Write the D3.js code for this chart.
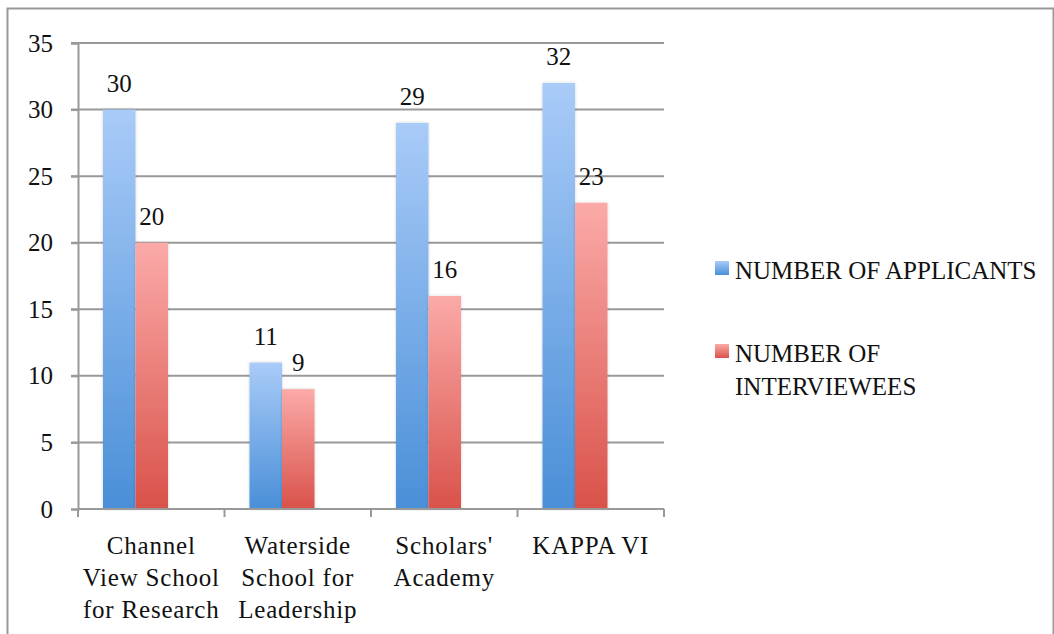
<!DOCTYPE html>
<html>
<head>
<meta charset="utf-8">
<script src="https://cdn.jsdelivr.net/npm/d3@7"></script>
<style>
	body { margin: 0; background: #fff; }
	svg text { font-family: "Liberation Serif"; fill: #111; }
</style>
</head>
<body>
<div id="chart"></div>
<script>
//-------------------------------------
// data
//-------------------------------------
var schools = [
	["Channel", "View School", "for Research"],
	["Waterside", "School for", "Leadership"],
	["Scholars'", "Academy"],
	["KAPPA VI"]
];
var seriesNames = ["NUMBER OF APPLICANTS", "NUMBER OF INTERVIEWEES"];
var applicants = [30, 11, 29, 32];
var interviewees = [20, 9, 16, 23];
var yTicks = [0, 5, 10, 15, 20, 25, 30, 35];

var width = 1054;
var height = 634;
var serif = "Liberation Serif";

var svg = d3.select("#chart")
	.append("svg")
	.attr("width", width)
	.attr("height", height)
	.attr("font-family", serif);

// frame
svg.append("rect")
	.attr("x", 7.5).attr("y", 8.5)
	.attr("width", 1046).attr("height", 640)
	.style("fill", "none")
	.style("stroke", "#999")
	.style("stroke-width", 2);

// gradients
var defs = svg.append("defs");
var grads = [["g0", "#a9cbf8", "#4a8fd8"], ["g1", "#fbaaa8", "#d9524a"]];
grads.forEach(function(g) {
	var lg = defs.append("linearGradient")
		.attr("id", g[0])
		.attr("x1", 0).attr("y1", 0).attr("x2", 0).attr("y2", 1);
	lg.append("stop").attr("offset", "0%").attr("stop-color", g[1]);
	lg.append("stop").attr("offset", "100%").attr("stop-color", g[2]);
});
var shadow = defs.append("filter").attr("id", "sh")
	.attr("x", "-30%").attr("y", "-10%").attr("width", "160%").attr("height", "120%");
shadow.append("feDropShadow")
	.attr("dx", 0).attr("dy", 0).attr("stdDeviation", 1.5)
	.attr("flood-color", "#000").attr("flood-opacity", 0.18);

//-------------------------------------
// scales
//-------------------------------------
var plotLeft = 78, plotRight = 664, plotTop = 43, plotBottom = 509;

var x0 = d3.scaleBand()
	.domain(d3.range(schools.length))
	.range([plotLeft, plotRight])
	.padding(0);

var bw = x0.bandwidth();
var x1 = d3.scaleBand()
	.domain([0, 1])
	.range([bw * 25 / 146.5, bw * 90 / 146.5])
	.padding(0);

var y = d3.scaleLinear()
	.domain([0, 35])
	.range([plotBottom, plotTop]);

// grid
svg.append("g").selectAll("line")
	.data(yTicks.slice(1))
	.enter()
	.append("line")
	.attr("x1", plotLeft - 7).attr("x2", plotRight)
	.attr("y1", function(d) { return y(d); })
	.attr("y2", function(d) { return y(d); })
	.style("stroke", "#999")
	.style("stroke-width", 2);

// y axis
var yAxis = svg.append("g")
	.attr("transform", "translate(" + plotLeft + ",0)")
	.call(d3.axisLeft(y).tickValues(yTicks).tickSize(7).tickPadding(18));
yAxis.attr("font-family", serif).attr("font-size", 25);
yAxis.select(".domain").style("stroke", "#999").style("stroke-width", 2);
yAxis.selectAll(".tick line").style("stroke", "#999").style("stroke-width", 2);
yAxis.selectAll(".tick text").style("fill", "#111");

// bars
var series = [applicants, interviewees];
series.forEach(function(values, s) {
	var g = svg.append("g");
	g.selectAll("rect")
		.data(values)
		.enter()
		.append("rect")
		.attr("x", function(d, i) { return x0(i) + x1(s); })
		.attr("y", function(d) { return y(d); })
		.attr("width", x1.bandwidth())
		.attr("height", function(d) { return y(0) - y(d); })
		.attr("filter", "url(#sh)")
		.style("fill", "url(#g" + s + ")");

	g.selectAll("text")
		.data(values)
		.enter()
		.append("text")
		.attr("x", function(d, i) { return x0(i) + x1(s) + x1.bandwidth() / 2; })
		.attr("y", function(d) { return y(d) - 18; })
		.attr("text-anchor", "middle")
		.attr("font-size", 25)
		.text(function(d) { return d; });
});

// x axis
var xAxis = svg.append("g")
	.attr("transform", "translate(0," + plotBottom + ")");
xAxis.append("line")
	.attr("x1", plotLeft).attr("x2", plotRight)
	.style("stroke", "#999").style("stroke-width", 2);
xAxis.selectAll(".tk")
	.data(d3.range(schools.length + 1))
	.enter()
	.append("line")
	.attr("x1", function(d) { return plotLeft + d * bw; })
	.attr("x2", function(d) { return plotLeft + d * bw; })
	.attr("y1", 0).attr("y2", 8)
	.style("stroke", "#999").style("stroke-width", 2);

xAxis.selectAll(".cat")
	.data(schools)
	.enter()
	.append("text")
	.attr("text-anchor", "middle")
	.attr("x", function(d, i) { return x0(i) + bw / 2; })
	.attr("y", 45)
	.attr("font-size", 25)
	.attr("letter-spacing", 0.8)
	.each(function(d) {
		var t = d3.select(this);
		d.forEach(function(line, k) {
			t.append("tspan")
				.attr("x", t.attr("x"))
				.attr("dy", k ? 32 : 0)
				.text(line);
		});
	});

//-------------------------------------
// legend
//-------------------------------------
var legendLines = [["NUMBER OF APPLICANTS"], ["NUMBER OF", "INTERVIEWEES"]];
var legend = svg.append("g");
legendLines.forEach(function(lines, s) {
	var ly = s ? 344 : 261;
	legend.append("rect")
		.attr("x", 715).attr("y", ly)
		.attr("width", 14).attr("height", 14)
		.style("fill", "url(#g" + s + ")");
	var t = legend.append("text")
		.attr("x", 735).attr("y", ly + 18)
		.attr("font-size", 25);
	lines.forEach(function(line, k) {
		t.append("tspan").attr("x", 735).attr("dy", k ? 33 : 0).text(line);
	});
});
</script>
</body>
</html>
